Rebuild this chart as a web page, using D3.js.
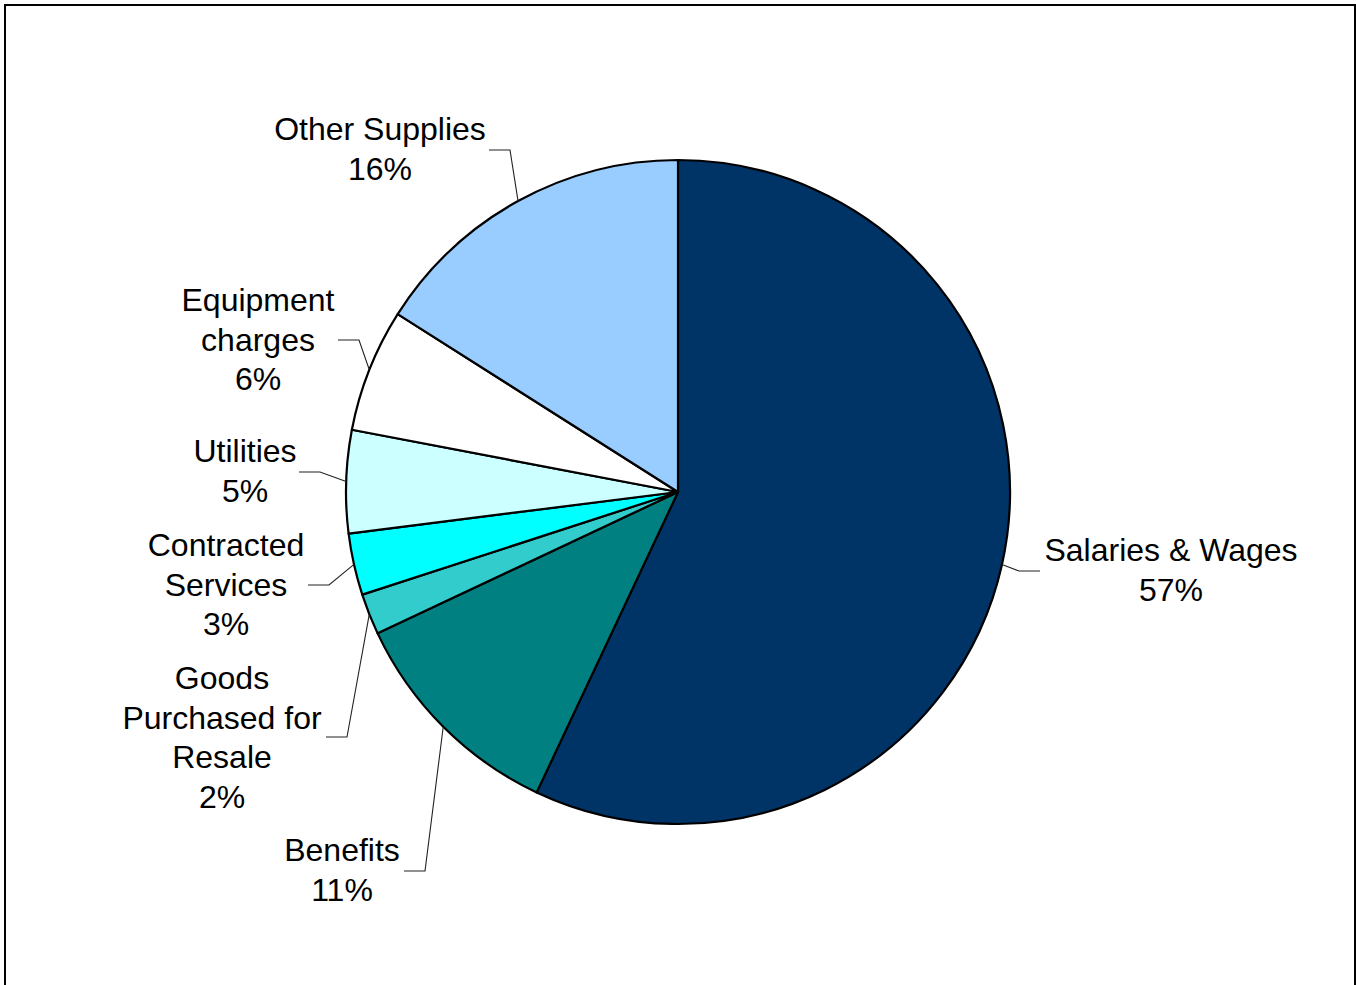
<!DOCTYPE html>
<html>
<head>
<meta charset="utf-8">
<script src="https://cdn.jsdelivr.net/npm/d3@7"></script>
<style>
  html, body { margin: 0; padding: 0; background: #fff; }
  svg { display: block; }
  text { font-family: "Liberation Sans", Arial, sans-serif; }
</style>
</head>
<body>
<svg id="chart" width="1356" height="985"></svg>
<script>
// ---- data ----
const categories = ["Salaries & Wages", "Benefits", "Goods Purchased for Resale",
  "Contracted Services", "Utilities", "Equipment charges", "Other Supplies"];
const values = [57, 11, 2, 3, 5, 6, 16];
const labelLines = [
  ["Salaries & Wages"],
  ["Benefits"],
  ["Goods", "Purchased for", "Resale"],
  ["Contracted", "Services"],
  ["Utilities"],
  ["Equipment", "charges"],
  ["Other Supplies"]
];
const colors = ["#003366", "#008080", "#33CCCC", "#00FFFF", "#CCFFFF", "#FFFFFF", "#99CCFF"];

// ---- layout (label placement) ----
const labelLayout = [
  { x: 1171, y: 550, ex: 1019, ey: 571, dir: 1 },
  { x: 342,  y: 850, ex: 425,  ey: 871, dir: -1 },
  { x: 222,  y: 678, ex: 347,  ey: 737, dir: -1 },
  { x: 226,  y: 545, ex: 329,  ey: 585, dir: -1 },
  { x: 245,  y: 451, ex: 320,  ey: 472, dir: -1 },
  { x: 258,  y: 300, ex: 359,  ey: 340, dir: -1 },
  { x: 380,  y: 129, ex: 510,  ey: 150, dir: -1 }
];

const svg = d3.select("#chart");
const cx = 678, cy = 492, R = 332;
const fontSize = 32, lineH = 39.5;

// frame
svg.append("rect")
  .attr("x", 5).attr("y", 5)
  .attr("width", 1350).attr("height", 1000)
  .attr("fill", "#fff")
  .attr("stroke", "#000").attr("stroke-width", 2);

const total = d3.sum(values);
const data = categories.map((c, i) => ({ name: c, value: values[i], i }));

const pie = d3.pie().value(d => d.value).sort(null);
const arcs = pie(data);
const arc = d3.arc().innerRadius(0).outerRadius(R);

const g = svg.append("g").attr("transform", `translate(${cx},${cy})`);

g.selectAll("path.slice")
  .data(arcs)
  .join("path")
  .attr("class", "slice")
  .attr("d", arc)
  .attr("fill", d => colors[d.data.i])
  .attr("stroke", "#000")
  .attr("stroke-width", 2.2)
  .attr("stroke-linejoin", "round");

// leader lines
const leaders = svg.append("g");
arcs.forEach(a => {
  const L = labelLayout[a.data.i];
  const mid = (a.startAngle + a.endAngle) / 2;
  const px = cx + R * Math.sin(mid);
  const py = cy - R * Math.cos(mid);
  const pts = [[px, py], [L.ex, L.ey], [L.ex + L.dir * 21, L.ey]];
  leaders.append("path")
    .attr("d", d3.line()(pts))
    .attr("fill", "none")
    .attr("stroke", "#222")
    .attr("stroke-width", 1.1);
});

// labels
const fmt = d3.format(".0%");
const labels = svg.append("g");
arcs.forEach(a => {
  const L = labelLayout[a.data.i];
  const lines = labelLines[a.data.i].concat([fmt(a.data.value / total)]);
  const t = labels.append("text")
    .attr("text-anchor", "middle")
    .attr("font-size", fontSize)
    .attr("fill", "#000");
  lines.forEach((s, k) => {
    t.append("tspan")
      .attr("x", L.x)
      .attr("y", L.y + k * lineH + fontSize * 0.35)
      .text(s);
  });
});
</script>
</body>
</html>
